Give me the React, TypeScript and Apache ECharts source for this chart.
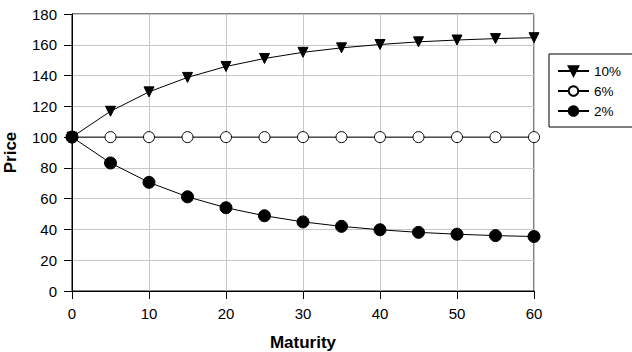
import React, { useEffect, useRef } from "react";
import * as echarts from "echarts";

const maturities = [0, 5, 10, 15, 20, 25, 30, 35, 40, 45, 50, 55, 60];
const price10 = [100, 116.8, 129.4, 138.8, 145.9, 151.1, 155.1, 158.0, 160.2, 161.9, 163.1, 164.0, 164.6];
const price6 = [100, 100, 100, 100, 100, 100, 100, 100, 100, 100, 100, 100, 100];
const price2 = [100, 83.2, 70.6, 61.2, 54.1, 48.9, 44.9, 42.0, 39.8, 38.1, 36.9, 36.0, 35.4];
const seriesNames = ["10%", "6%", "2%"];

const FONT = "Liberation Sans, Arial, Helvetica, sans-serif";

export default function App() {
  const ref = useRef<HTMLDivElement>(null);
  useEffect(() => {
    if (!ref.current) return;
    const chart = echarts.init(ref.current, null, { renderer: "svg" });
    const pair = (ys: number[]) => maturities.map((m, i) => [m, ys[i]]);
    const base = {
      type: "line",
      lineStyle: { color: "#000", width: 1 },
      itemStyle: { color: "#000", borderColor: "#000", borderWidth: 1 },
      emphasis: { disabled: true },
    };
    chart.setOption({
      animation: false,
      textStyle: { fontFamily: FONT },
      grid: {
        left: 72,
        right: 98,
        top: 14,
        bottom: 61,
        outerBoundsMode: "none",
        containLabel: false,
        show: true,
        borderColor: "#000",
        borderWidth: 1,
        backgroundColor: "transparent",
      },
      legend: {
        orient: "vertical",
        left: 549,
        top: 54,
        padding: [10, 20, 9, 8],
        itemGap: 6,
        itemWidth: 31,
        itemHeight: 12,
        borderColor: "#000",
        borderWidth: 1,
        textStyle: { fontSize: 13.5, color: "#000", fontFamily: FONT },
        data: seriesNames,
      },
      xAxis: {
        type: "value",
        min: 0,
        max: 60,
        interval: 10,
        name: "Maturity",
        nameLocation: "middle",
        nameGap: 43,
        nameTextStyle: { fontSize: 17, fontWeight: "bold", color: "#000", fontFamily: FONT },
        axisLine: { show: true, lineStyle: { color: "#000", width: 1 } },
        axisTick: { show: true, inside: false, length: 8, lineStyle: { color: "#000" } },
        axisLabel: { fontSize: 15, color: "#000", margin: 15, fontFamily: FONT },
        splitLine: { show: true, lineStyle: { color: "#c8c8c8", width: 1 } },
      },
      yAxis: {
        type: "value",
        min: 0,
        max: 180,
        interval: 20,
        name: "Price",
        nameLocation: "middle",
        nameGap: 53,
        nameTextStyle: { fontSize: 17, fontWeight: "bold", color: "#000", fontFamily: FONT },
        axisLine: { show: true, lineStyle: { color: "#000", width: 1 } },
        axisTick: { show: true, inside: false, length: 8, lineStyle: { color: "#000" } },
        axisLabel: { fontSize: 15, color: "#000", margin: 15, fontFamily: FONT },
        splitLine: { show: true, lineStyle: { color: "#c8c8c8", width: 1 } },
      },
      series: [
        {
          ...base,
          name: seriesNames[0],
          data: pair(price10),
          symbol: "triangle",
          symbolRotate: 180,
          symbolSize: 10,
          z: 3,
        },
        {
          ...base,
          name: seriesNames[1],
          data: pair(price6),
          symbol: "circle",
          symbolSize: 11,
          itemStyle: { color: "#fff", borderColor: "#000", borderWidth: 1 },
          z: 2,
        },
        {
          ...base,
          name: seriesNames[2],
          data: pair(price2),
          symbol: "circle",
          symbolSize: 12,
          z: 4,
        },
      ],
    });
    return () => chart.dispose();
  }, []);
  return <div ref={ref} style={{ width: 632, height: 352, position: "absolute", left: 0, top: 0 }} />;
}
